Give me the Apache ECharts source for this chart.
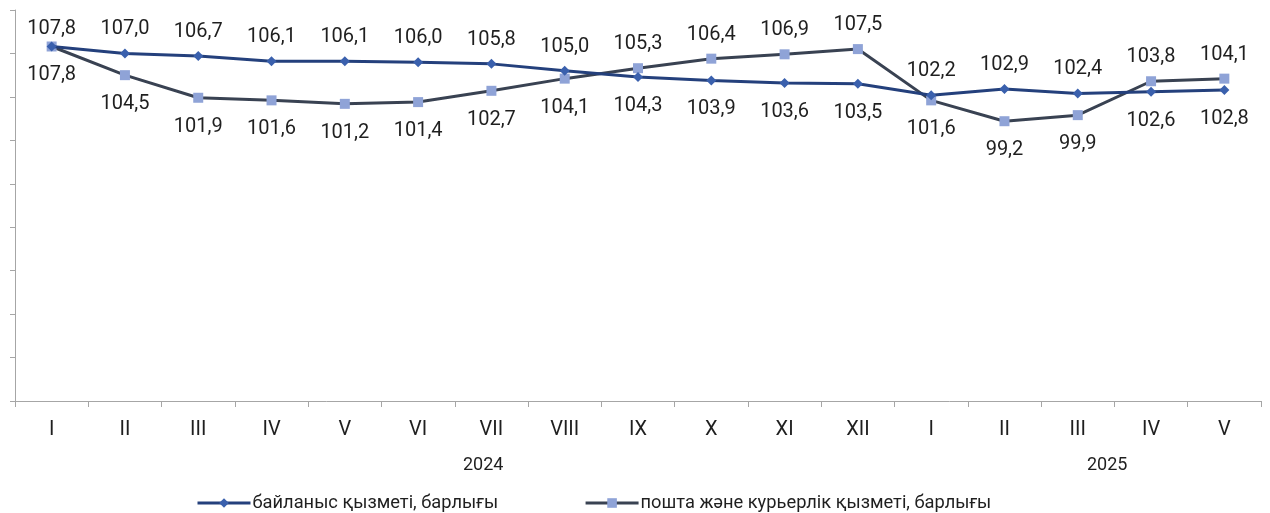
<!DOCTYPE html>
<html>
<head>
<meta charset="utf-8">
<script src="https://cdn.jsdelivr.net/npm/echarts@6/dist/echarts.min.js"></script>
<style>
html,body{margin:0;padding:0;background:#fff;}
#c{width:1270px;height:513px;}
</style>
</head>
<body>
<div id="c"></div>
<script>
const categories = ['I','II','III','IV','V','VI','VII','VIII','IX','X','XI','XII','I','II','III','IV','V'];
const years = ['2024','2025'];
const seriesNames = ['байланыс қызметі, барлығы','пошта және курьерлік қызметі, барлығы'];
const communication = [107.8,107.0,106.7,106.1,106.1,106.0,105.8,105.0,104.3,103.9,103.6,103.5,102.2,102.9,102.4,102.6,102.8];
const postal = [107.8,104.5,101.9,101.6,101.2,101.4,102.7,104.1,105.3,106.4,106.9,107.5,101.6,99.2,99.9,103.8,104.1];

const fmt = p => p.value.toFixed(1).replace('.', ',');
const labelStyle = {show:true, formatter: fmt, color:'#1f1f1f', fontSize:20, fontFamily:'Roboto'};
const TOP_DIST = 9, BOTTOM_DIST = 14;

function makeData(vals, other, wins) {
  return vals.map((v,i)=>{
    const top = wins(v, other[i]);
    return {value:v, label:{position: top ? 'top' : 'bottom', distance: top ? TOP_DIST : BOTTOM_DIST}};
  });
}
const s1Data = makeData(communication, postal, (a,b)=>a>=b);
const s2Data = makeData(postal, communication, (a,b)=>a>b);
// the first label sits closer to the point (kept inside the plot in the original)
s1Data[0].label.distance = 2;

const chart = echarts.init(document.getElementById('c'), null, {renderer:'canvas'});
chart.setOption({
  animation:false,
  textStyle:{fontFamily:'Roboto'},
  grid:{left:15, right:9, top:10, bottom:112, containLabel:false},
  xAxis:{
    type:'category', data:categories, boundaryGap:true,
    axisLine:{lineStyle:{color:'#a6a6a6', width:1}},
    axisTick:{show:true, length:6, lineStyle:{color:'#a6a6a6'}},
    axisLabel:{color:'#1f1f1f', fontSize:20, margin:19, fontFamily:'Roboto'}
  },
  yAxis:{
    type:'value', min:67, max:112, interval:5,
    axisLine:{show:true, lineStyle:{color:'#a6a6a6', width:1}},
    axisTick:{show:true, length:5, lineStyle:{color:'#a6a6a6'}},
    axisLabel:{show:false},
    splitLine:{show:false}
  },
  legend:{
    left:196, top:494, padding:0, itemWidth:53, itemHeight:12, itemGap:86,
    lineStyle:{width:3},
    textStyle:{color:'#1f1f1f', fontSize:18.3, fontFamily:'Roboto', padding:[0,0,0,-3]},
    data:seriesNames
  },
  graphic:[
    {type:'text', left:463, top:456, style:{text:years[0], fontSize:18, fontFamily:'Roboto', fill:'#1f1f1f'}},
    {type:'text', left:1087, top:456, style:{text:years[1], fontSize:18, fontFamily:'Roboto', fill:'#1f1f1f'}}
  ],
  series:[
    {
      name:seriesNames[0], type:'line', data:s1Data,
      symbol:'diamond', symbolSize:10,
      lineStyle:{color:'#24407c', width:3},
      itemStyle:{color:'#3a60ad'},
      label:labelStyle, z:3
    },
    {
      name:seriesNames[1], type:'line', data:s2Data,
      symbol:'rect', symbolSize:10,
      lineStyle:{color:'#394252', width:3},
      itemStyle:{color:'#8fa3d7'},
      label:labelStyle, z:2
    }
  ]
});
</script>
</body>
</html>
